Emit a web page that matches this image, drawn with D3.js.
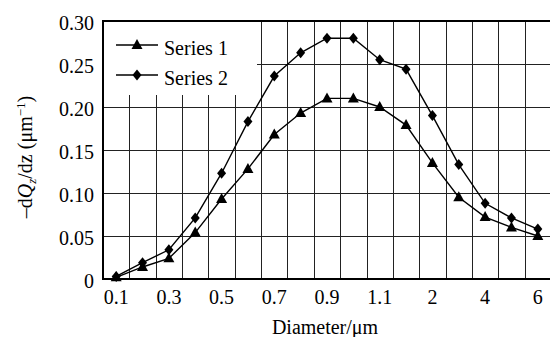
<!DOCTYPE html>
<html>
<head>
<meta charset="utf-8">
<script src="https://cdn.jsdelivr.net/npm/d3@7"></script>
<style>
  body { margin: 0; background: #fff; }
  svg text { font-family: "Liberation Serif", "Times New Roman", "DejaVu Serif", serif; fill: black; }
</style>
</head>
<body>
<div id="chart"></div>
<script>
// chart size
var w = 550;
var h = 337;
var margin = { top: 21, right: -1, bottom: 58, left: 103 };
var serif = "Liberation Serif, Times New Roman, serif";

// data
var diameters = ["0.1", "0.2", "0.3", "0.4", "0.5", "0.6", "0.7", "0.8", "0.9", "1.0", "1.1", "1.2", "2", "3", "4", "5", "6"];
var series1 = [0.002, 0.014, 0.024, 0.054, 0.093, 0.128, 0.168, 0.193, 0.210, 0.210, 0.200, 0.179, 0.135, 0.095, 0.072, 0.060, 0.050];
var series2 = [0.003, 0.019, 0.034, 0.071, 0.123, 0.183, 0.236, 0.263, 0.280, 0.280, 0.255, 0.244, 0.190, 0.133, 0.088, 0.071, 0.058];
var xLabels = ["0.1", "0.3", "0.5", "0.7", "0.9", "1.1", "2", "4", "6"];
var yTicks = [0, 0.05, 0.10, 0.15, 0.20, 0.25, 0.30];
var seriesNames = ["Series 1", "Series 2"];

function drawMarker(g, type, x, y) {
  if (type === "triangle") {
    g.append("path")
      .attr("d", "M" + x + "," + (y - 6) + "L" + (x + 5.5) + "," + (y + 4) + "L" + (x - 5.5) + "," + (y + 4) + "Z")
      .attr("fill", "black");
  } else {
    g.append("path")
      .attr("d", "M" + x + "," + (y - 5.5) + "L" + (x + 4.5) + "," + y + "L" + x + "," + (y + 5.5) + "L" + (x - 4.5) + "," + y + "Z")
      .attr("fill", "black");
  }
}

function createSeries(g, values, xScale, yScale, type) {
  var line = d3.line()
    .x(function(d, i) { return xScale(diameters[i]) + xScale.bandwidth() / 2; })
    .y(function(d) { return yScale(d); });

  g.append("path")
    .datum(values)
    .attr("fill", "none")
    .attr("stroke", "black")
    .attr("stroke-width", 1.4)
    .attr("d", line);

  values.forEach(function(v, i) {
    drawMarker(g, type, xScale(diameters[i]) + xScale.bandwidth() / 2, yScale(v));
  });
}

function main() {
  var svg = d3.select("#chart")
    .append("svg")
    .attr("width", w)
    .attr("height", h);

  var x0 = margin.left, x1 = w - margin.right;
  var y0 = h - margin.bottom, y1 = margin.top;

  var xScale = d3.scaleBand()
    .domain(diameters)
    .range([x0, x1])
    .padding(0);

  var yScale = d3.scaleLinear()
    .domain([0, 0.30])
    .range([y0, y1]);

  var grid = svg.append("g");

  // vertical grid lines between categories
  grid.selectAll(".vgrid")
    .data(diameters.slice(1))
    .enter()
    .append("line")
    .attr("x1", function(d) { return Math.round(xScale(d)) + 0.5; })
    .attr("x2", function(d) { return Math.round(xScale(d)) + 0.5; })
    .attr("y1", y1)
    .attr("y2", y0)
    .attr("stroke", "#222")
    .attr("stroke-width", 1);

  grid.selectAll(".hgrid")
    .data(yTicks.slice(1, -1))
    .enter()
    .append("line")
    .attr("x1", x0)
    .attr("x2", x1)
    .attr("y1", function(d) { return Math.round(yScale(d)) + 0.5; })
    .attr("y2", function(d) { return Math.round(yScale(d)) + 0.5; })
    .attr("stroke", "#222")
    .attr("stroke-width", 1);

  // legend background hides the grid
  svg.append("rect")
    .attr("x", x0 + 1)
    .attr("y", y1 + 1)
    .attr("width", 153)
    .attr("height", 73)
    .attr("fill", "white");

  // frame
  svg.append("rect")
    .attr("x", x0)
    .attr("y", y1)
    .attr("width", x1 - x0)
    .attr("height", y0 - y1)
    .attr("fill", "none")
    .attr("stroke", "black")
    .attr("stroke-width", 2);

  // y axis
  var yAxis = d3.axisLeft(yScale)
    .tickValues(yTicks)
    .tickSize(0)
    .tickPadding(9)
    .tickFormat(function(d) { return d === 0 ? "0" : d.toFixed(2); });

  svg.append("g")
    .attr("transform", "translate(" + x0 + ",0)")
    .call(yAxis)
    .attr("font-family", serif)
    .attr("font-size", 20)
    .call(function(g) { g.select(".domain").remove(); })
    .selectAll("text")
    .attr("dy", "0.42em");

  // x axis
  var xAxis = d3.axisBottom(xScale)
    .tickValues(xLabels)
    .tickSize(0)
    .tickPadding(11);

  svg.append("g")
    .attr("transform", "translate(0," + y0 + ")")
    .call(xAxis)
    .attr("font-family", serif)
    .attr("font-size", 20)
    .call(function(g) { g.select(".domain").remove(); });

  // axis titles
  svg.append("text")
    .attr("x", 325)
    .attr("y", 334)
    .attr("text-anchor", "middle")
    .attr("font-family", serif)
    .style("font-size", "20px")
    .text("Diameter/μm");

  var yTitle = svg.append("text")
    .attr("transform", "translate(32," + 157 + ") rotate(-90)")
    .attr("text-anchor", "middle")
    .attr("font-family", serif)
    .style("font-size", "20px");
  yTitle.append("tspan").text("–d");
  yTitle.append("tspan").style("font-style", "italic").text("Q");
  yTitle.append("tspan").style("font-style", "italic").style("font-size", "13px").attr("dy", 4).text("z");
  yTitle.append("tspan").attr("dy", -4).text("/dz (μm");
  yTitle.append("tspan").style("font-size", "13px").attr("dy", -7).text("−1");
  yTitle.append("tspan").attr("dy", 7).text(")");

  // lines and markers
  var plot = svg.append("g");
  createSeries(plot, series1, xScale, yScale, "triangle");
  createSeries(plot, series2, xScale, yScale, "diamond");

  // legend
  var types = ["triangle", "diamond"];
  seriesNames.forEach(function(name, i) {
    var ly = 45 + i * 30;
    svg.append("line")
      .attr("x1", 116)
      .attr("x2", 158)
      .attr("y1", ly)
      .attr("y2", ly)
      .attr("stroke", "black")
      .attr("stroke-width", 1.4);
    drawMarker(svg, types[i], 137, ly);
    svg.append("text")
      .attr("x", 164)
      .attr("y", ly + 10)
      .attr("font-family", serif)
      .style("font-size", "20px")
      .text(name);
  });
}

window.onload = function() {
  main();
};
</script>
</body>
</html>
